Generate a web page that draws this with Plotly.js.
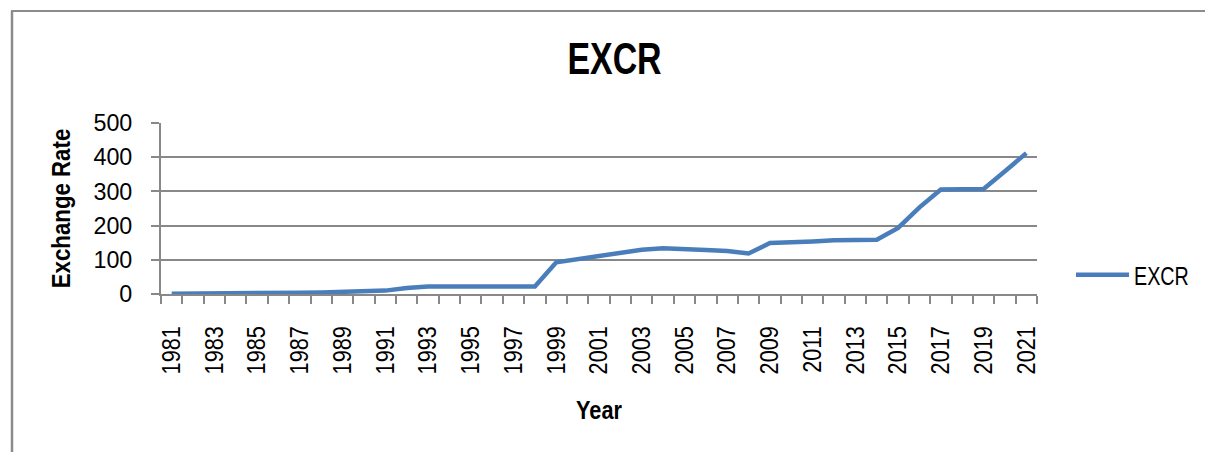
<!DOCTYPE html>
<html>
<head>
<meta charset="utf-8">
<script src="https://cdn.plot.ly/plotly-3.0.1.min.js"></script>
<style>html,body{margin:0;padding:0;background:#fff;}#chart{width:1205px;height:452px;}</style>
</head>
<body>
<div id="chart"></div>
<script>
const years = [1981,1982,1983,1984,1985,1986,1987,1988,1989,1990,1991,1992,1993,1994,1995,1996,1997,1998,1999,2000,2001,2002,2003,2004,2005,2006,2007,2008,2009,2010,2011,2012,2013,2014,2015,2016,2017,2018,2019,2020,2021];
const excr = [0.61,0.67,0.72,0.76,0.89,2.02,4.02,4.54,7.39,8.04,9.91,17.3,22.05,21.89,21.89,21.89,21.89,21.89,92.69,102.1,111.9,120.97,129.36,133.5,132.15,128.65,125.83,118.57,148.88,150.3,153.86,157.5,157.31,158.55,193.28,253.49,305.79,306.08,306.92,358.81,412.0];
const yTicks = [0,100,200,300,400,500];
const labelYears = years.filter((y,i)=>i%2===0);

const F = '"Liberation Sans", Arial, sans-serif';
const trace = {x: years, y: excr, type:'scatter', mode:'lines', name:'EXCR',
  line:{color:'#4a7ebb', width:4.5}};
const px = v => (v-161)/876;
const py = v => (294-v)/171;
const layout = {
  width:1205, height:452, paper_bgcolor:'#fff', plot_bgcolor:'#fff',
  margin:{l:161, r:168, t:123, b:158, autoexpand:false},
  font:{family:F, color:'#000'},
  title:{text:'<b>EXCR</b>', font:{size:44, family:F}, x:0.51, xanchor:'center', y:1-59/452, yanchor:'middle'},
  xaxis:{range:[years[0]-0.5, years[years.length-1]+0.5], tickvals:labelYears, ticktext:labelYears.map(String),
    tickangle:-90, tickfont:{size:25.5, family:F}, ticks:'', showgrid:false, zeroline:false,
    showline:true, linecolor:'#888', linewidth:2, ticklabelstandoff:20,
    minor:{tick0:years[0]-0.5, dtick:1, ticks:'outside', ticklen:8, tickcolor:'#888', tickwidth:2, showgrid:false},
    title:{text:'<b>Year</b>', font:{size:26.5, family:F}, standoff:19}},
  yaxis:{range:[0,500], tickvals:yTicks, tickfont:{size:23.3, family:F}, ticks:'outside', ticklen:8, tickcolor:'#888', tickwidth:2,
    showline:true, linecolor:'#888', linewidth:2, gridcolor:'#888', gridwidth:2, zeroline:false, ticklabelstandoff:14,
    title:{text:'<b>Exchange Rate</b>', font:{size:26.5, family:F}, standoff:15}},
  showlegend:true,
  legend:{x:px(1071), y:py(275), xanchor:'left', yanchor:'middle', font:{size:25, family:F}, bgcolor:'rgba(0,0,0,0)', itemwidth:53},
  shapes:[
    {type:'line', xref:'paper', yref:'paper', x0:px(11), x1:px(1210), y0:py(11), y1:py(11), line:{color:'#8c8c8c', width:2}},
    {type:'line', xref:'paper', yref:'paper', x0:px(12), x1:px(12), y0:py(460), y1:py(11), line:{color:'#8c8c8c', width:2.5}}
  ]
};
function condense(sel, sx){
  document.querySelectorAll(sel).forEach(el=>{
    const x = parseFloat(el.getAttribute('x')||0), y = parseFloat(el.getAttribute('y')||0);
    const t = el.getAttribute('transform')||'';
    el.setAttribute('transform', `${t} translate(${x},${y}) scale(${sx},1) translate(${-x},${-y})`);
  });
}
Plotly.newPlot('chart', [trace], layout, {displayModeBar:false, staticPlot:true}).then(()=>{
  condense('#chart .gtitle', 0.77);
  condense('#chart .xtick text', 0.85);
  condense('#chart .xtitle', 0.82);
  condense('#chart .ytitle', 0.84);
  condense('#chart .legendtext', 0.79);
});
</script>
</body>
</html>
